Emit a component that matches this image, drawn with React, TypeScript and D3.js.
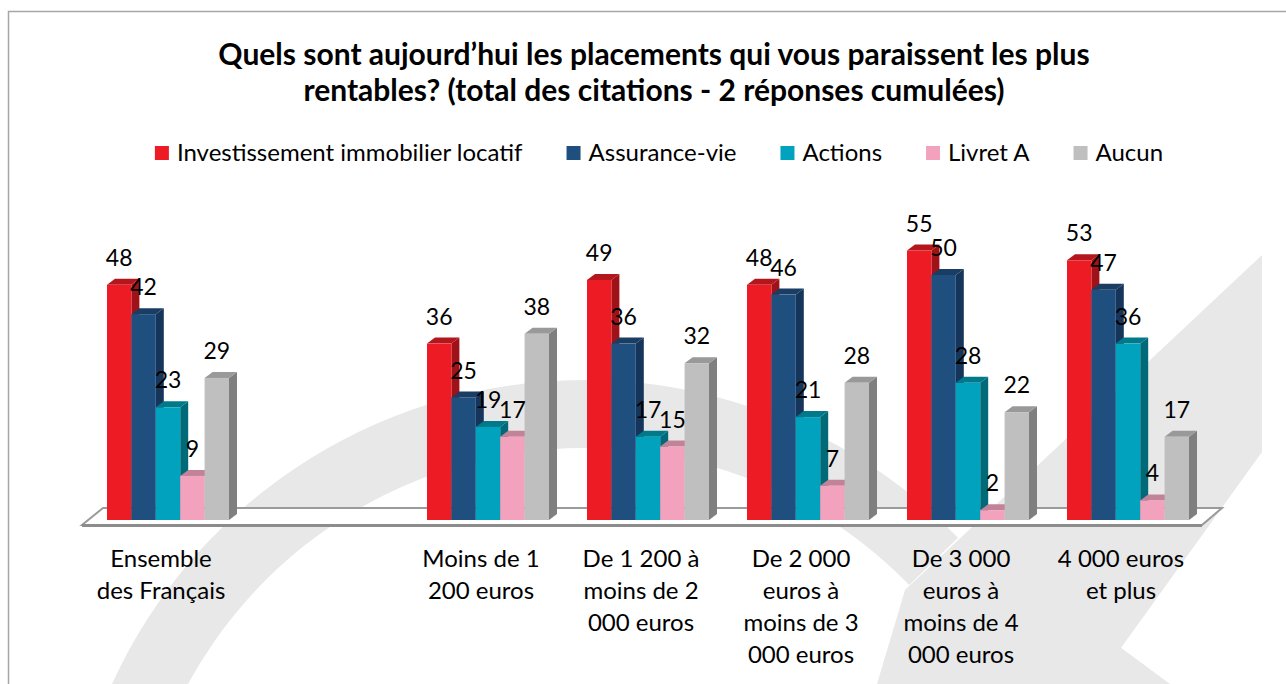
import React, { useEffect, useRef } from 'react'
import * as d3 from 'd3'

// categories (index 1 is the empty slot between the total and the income groups)
const slots = ['ensemble', 'gap', 'moins1200', 'de1200', 'de2000', 'de3000', 'plus4000']
const groupKeys = ['ensemble', 'moins1200', 'de1200', 'de2000', 'de3000', 'plus4000']
const categoryLines: string[][] = [
  ['Ensemble', 'des Français'],
  ['Moins de 1', '200 euros'],
  ['De 1 200 à', 'moins de 2', '000 euros'],
  ['De 2 000', 'euros à', 'moins de 3', '000 euros'],
  ['De 3 000', 'euros à', 'moins de 4', '000 euros'],
  ['4 000 euros', 'et plus'],
]

const seriesNames = ['Investissement immobilier locatif', 'Assurance-vie', 'Actions', 'Livret A', 'Aucun']
const immobilier = [48, 36, 49, 48, 55, 53]
const assuranceVie = [42, 25, 36, 46, 50, 47]
const actions = [23, 19, 17, 21, 28, 36]
const livretA = [9, 17, 15, 7, 2, 4]
const aucun = [29, 38, 32, 28, 22, 17]
const seriesValues = [immobilier, assuranceVie, actions, livretA, aucun]

const titleLines = [
  'Quels sont aujourd’hui les placements qui vous paraissent les plus',
  'rentables? (total des citations - 2 réponses cumulées)',
]

const frontColors = ['#ED1C24', '#1F4F7F', '#00A2BE', '#F3A2BE', '#BFBFBF']
const topColors = ['#B3161C', '#1A3D63', '#00798A', '#C28399', '#999999']
const sideColors = ['#9E1218', '#16355A', '#006A78', '#B97B91', '#7F7F7F']

const W = 1286
const H = 684
const FONT = 'Lato, "Open Sans", sans-serif'

const App: React.FC = () => {
  const svgRef = useRef<SVGSVGElement>(null)

  useEffect(() => {
    if (!svgRef.current) return
    const svg = d3.select(svgRef.current)
    svg.selectAll('*').remove()

    svg.append('rect').attr('width', W).attr('height', H).attr('fill', '#fff')

    // watermark (light grey swoosh behind the chart)
    const wm = svg.append('g').attr('fill', '#e8e8e8')
    const ring = d3.arc()({ innerRadius: 452, outerRadius: 520, startAngle: -1.55, endAngle: 0.8 } as any)
    wm.append('path').attr('d', ring).attr('transform', 'translate(585,900)')
    wm.append('path').attr('d', d3.line()([[1262, 255], [1262, 452], [1095, 684], [877, 684], [905, 590]]) + 'Z')
    wm.append('path').attr('d', d3.line()([[1120, 647], [1170, 684], [1065, 684]]) + 'Z')

    // frame
    svg.append('path')
      .attr('d', `M8.5,${H}V11.5H${W}`)
      .attr('fill', 'none')
      .attr('stroke', '#a6a6a6')
      .attr('stroke-width', 1.5)

    // title
    const title = svg.append('text')
      .attr('text-anchor', 'middle')
      .attr('font-family', FONT)
      .attr('font-weight', 'bold')
      .attr('font-size', 30)
      .attr('fill', '#000')
    titleLines.forEach((t, i) => {
      title.append('tspan').attr('x', 654).attr('y', 65 + i * 36).text(t)
    })

    // legend, laid out item after item then centred
    const legend = svg.append('g').attr('font-family', FONT).attr('font-size', 24)
    const gap = 44
    let cursor = 0
    seriesNames.forEach((name, i) => {
      const item = legend.append('g').attr('transform', `translate(${cursor},0)`)
      item.append('rect').attr('x', 0).attr('y', 146).attr('width', 14).attr('height', 14).attr('fill', frontColors[i])
      const txt = item.append('text').attr('x', 22).attr('y', 161).attr('fill', '#000').text(name)
      const w = (txt.node() as SVGTextElement).getComputedTextLength()
      cursor += 22 + w + gap
    })
    const legendWidth = cursor - gap
    legend.attr('transform', `translate(${659 - legendWidth / 2},0)`)

    // scales
    const x = d3.scaleBand<string>().domain(slots).range([88, 1208]).paddingInner(0.2375).paddingOuter(0.11875)
    const xs = d3.scaleBand<number>().domain(d3.range(seriesNames.length)).range([0, x.bandwidth()])
    const y = d3.scaleLinear().domain([0, 60]).range([520, 226])
    const dx = 8
    const dy = -6
    const base = y(0)

    // floor
    const floorL = x.range()[0] - 6
    const floorR = x.range()[1] - 6
    svg.append('path')
      .attr('d', `M${floorL},525L${floorL + 21},508L${floorR + 20},508L${floorR},525Z`)
      .attr('fill', '#fff')
      .attr('stroke', '#9a9a9a')
      .attr('stroke-width', 2)
    svg.append('line')
      .attr('x1', floorL).attr('x2', floorR)
      .attr('y1', 525.5).attr('y2', 525.5)
      .attr('stroke', '#8c8c8c')
      .attr('stroke-width', 3)

    // bars
    const bars = svg.append('g')
    groupKeys.forEach((key, gi) => {
      const gx = x(key) as number
      seriesValues.forEach((vals, si) => {
        const x0 = gx + (xs(si) as number)
        const x1 = x0 + xs.bandwidth()
        const top = y(vals[gi])
        bars.append('path')
          .attr('d', `M${x1},${base}L${x1 + dx},${base + dy}L${x1 + dx},${top + dy}L${x1},${top}Z`)
          .attr('fill', sideColors[si])
        bars.append('path')
          .attr('d', `M${x0},${top}L${x0 + dx},${top + dy}L${x1 + dx},${top + dy}L${x1},${top}Z`)
          .attr('fill', topColors[si])
        bars.append('rect')
          .attr('x', x0).attr('y', top)
          .attr('width', xs.bandwidth()).attr('height', base - top)
          .attr('fill', frontColors[si])
      })
    })

    // value labels
    const labels = svg.append('g')
      .attr('font-family', FONT)
      .attr('font-size', 23)
      .attr('text-anchor', 'middle')
      .attr('fill', '#000')
    groupKeys.forEach((key, gi) => {
      const gx = x(key) as number
      seriesValues.forEach((vals, si) => {
        labels.append('text')
          .attr('x', gx + (xs(si) as number) + xs.bandwidth() / 2)
          .attr('y', y(vals[gi]) - 19)
          .text(vals[gi])
      })
    })

    // category labels
    const cats = svg.append('g')
      .attr('font-family', FONT)
      .attr('font-size', 24)
      .attr('text-anchor', 'middle')
      .attr('fill', '#000')
    groupKeys.forEach((key, gi) => {
      const cx = (x(key) as number) + x.bandwidth() / 2 - 7
      const t = cats.append('text')
      categoryLines[gi].forEach((line, li) => {
        t.append('tspan').attr('x', cx).attr('y', 567 + li * 32).text(line)
      })
    })
  }, [])

  return (
    <svg
      ref={svgRef}
      width={W}
      height={H}
      style={{ position: 'absolute', left: 0, top: 0, display: 'block' }}
    />
  )
}

export default App
